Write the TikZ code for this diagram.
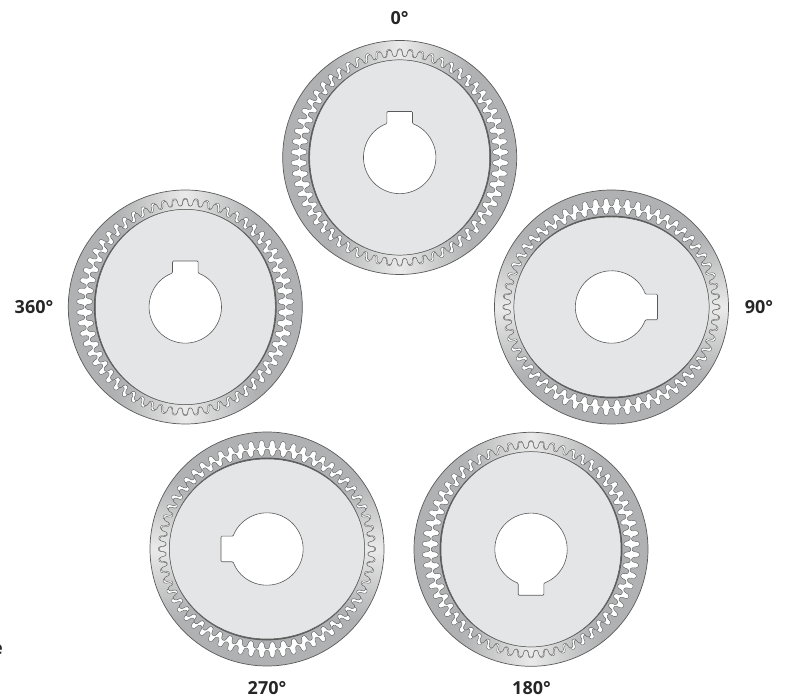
\documentclass[tikz,border=0pt]{standalone}
\usepackage{fontspec}
\setmainfont{Open Sans}
\definecolor{discgray}{HTML}{E4E5E6}
\definecolor{linegray}{HTML}{5A5A5A}
\definecolor{ringgray}{HTML}{B0B1B2}
\definecolor{ringlight}{HTML}{EAEAEA}
\pgfdeclareverticalshading{ringshade}{100bp}{color(0bp)=(ringgray); color(25bp)=(ringgray); color(35bp)=(ringgray); color(50bp)=(ringlight); color(65bp)=(ringgray); color(75bp)=(ringgray); color(100bp)=(ringgray)}
\tikzset{
	declare function={wob(\a,\n)=\a+0.66*sin(\n*\a)*cos(\n*\a);},
	ring/.style={draw=linegray, line width=0.7pt, shading=ringshade},
	gap/.style={draw=linegray, line width=0.4pt, fill=white},
	disc/.style={draw=linegray, line width=0.5pt, fill=discgray},
	bore/.style={draw=linegray, line width=0.6pt, fill=white, rounded corners=1pt},
	angle/.style={font=\bfseries\fontsize{18}{18}\selectfont, text=black!85, inner sep=0pt}
}
% x, y, turn of the long axis
\newcommand{\gearwheel}[3]{
	\begin{scope}[shift={(#1,#2)}, rotate=#3]
		\draw[ring, shading angle=#3] (0,0) circle (117);
		\draw[gap] plot[domain=-180:180, samples=961, variable=\ang] ({(104.9+3.8*cos(62*\ang))*cos(wob(\ang,62))}, {(104.9+3.8*cos(62*\ang))*sin(wob(\ang,62))}) -- cycle;
		\draw[ring, line width=0.4pt, shading angle=#3] plot[domain=-180:180, samples=961, variable=\ang] ({(104.4+3.4*cos(60*\ang))*cos(wob(\ang,60))}, {(96.4+3.4*cos(60*\ang))*sin(wob(\ang,60))}) -- cycle;
		\fill[linegray] (0,0) ellipse (97.8 and 91.4);
		\draw[disc] (0,0) ellipse (97.6 and 90);
		\draw[bore] (33.9,12.8) arc[start angle=20.7, end angle=339.3, radius=36.2] -- (36.5,-12.8) -- (46,-12.8) -- (46,12.8) -- (36.5,12.8) -- cycle;
	\end{scope}
}
\begin{document}
\begin{tikzpicture}[x=1pt, y=1pt]
	\useasboundingbox (0,0) rectangle (785,698);
	\gearwheel{399.7}{540.5}{90}
	\gearwheel{611.5}{391}{0}
	\gearwheel{531}{148.7}{-90}
	\gearwheel{267}{149}{180}
	\gearwheel{185.3}{391}{90}
	\node[angle] (a0) at (399.5,679.5) {0°};
	\node[angle] (a90) at (759,391) {90°};
	\node[angle] (a180) at (531.5,10) {180°};
	\node[angle] (a270) at (267,10) {270°};
	\node[angle] (a360) at (34,391) {360°};
	\node[angle, anchor=east] (cut) at (3,48) {e};
\end{tikzpicture}
\end{document}
